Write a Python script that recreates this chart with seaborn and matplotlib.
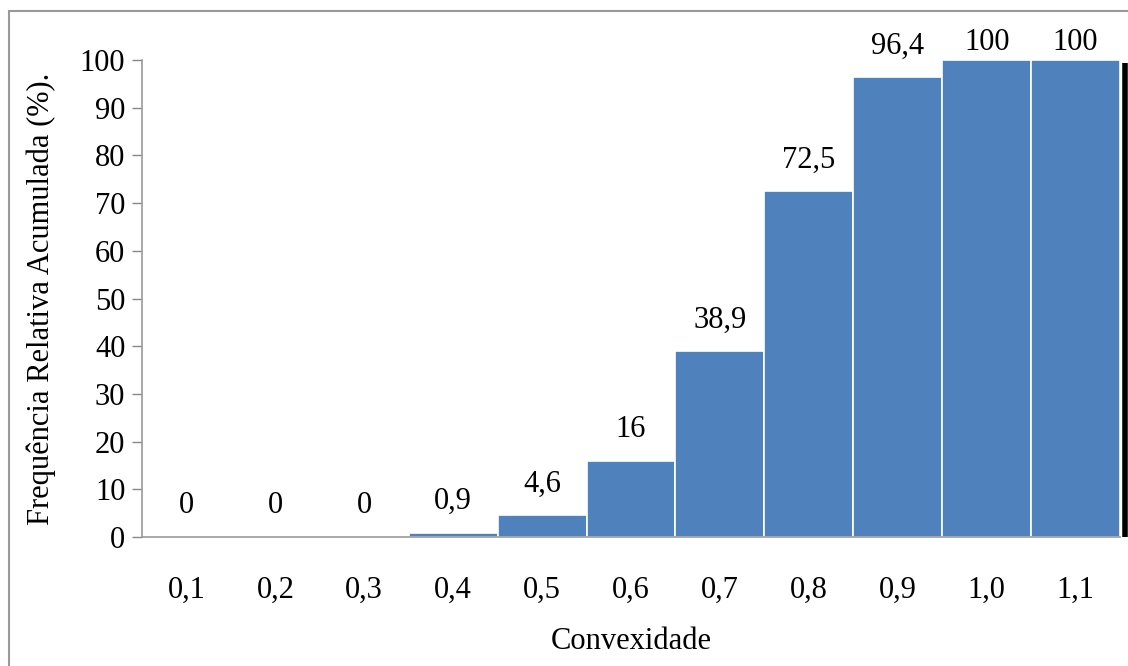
import matplotlib
matplotlib.use("Agg")
import matplotlib.pyplot as plt
import seaborn as sns
import pandas as pd
from matplotlib.patches import Rectangle
from matplotlib.lines import Line2D

categories = ["0,1", "0,2", "0,3", "0,4", "0,5", "0,6", "0,7", "0,8", "0,9", "1,0", "1,1"]
values = [0, 0, 0, 0.9, 4.6, 16, 38.9, 72.5, 96.4, 100, 100]
value_labels = ["0", "0", "0", "0,9", "4,6", "16", "38,9", "72,5", "96,4", "100", "100"]
y_ticks = [0, 10, 20, 30, 40, 50, 60, 70, 80, 90, 100]

sns.set_theme(style="white")
plt.rcParams["font.family"] = ["Liberation Serif", "DejaVu Serif"]

FS = 22

df = pd.DataFrame({"cat": categories, "val": values})

fig = plt.figure(figsize=(11.28, 6.66), dpi=100)
ax = fig.add_axes([142 / 1128, 1 - 537 / 666, (1120 - 142) / 1128, (537 - 60) / 666])

sns.barplot(data=df, x="cat", y="val", color="#4F81BD", saturation=1, width=1.0,
            edgecolor="white", linewidth=1.2, ax=ax)

ax.set_xlim(-0.5, len(categories) - 0.5)
ax.set_ylim(0, 100)
ax.set_yticks(y_ticks)
ax.set_yticklabels([str(t) for t in y_ticks], fontsize=FS, color="black")
ax.tick_params(axis="y", which="major", left=True, length=7, width=1, color="#888888", pad=5)
ax.tick_params(axis="x", bottom=False, labelsize=FS, labelcolor="black", pad=22)

for s in ["top", "right"]:
    ax.spines[s].set_visible(False)
for s in ["left", "bottom"]:
    ax.spines[s].set_color("#999999")
    ax.spines[s].set_linewidth(1.2)

ax.set_xlabel("Convexidade", fontsize=FS, labelpad=16, color="black")
ax.set_ylabel("Frequência Relativa Acumulada (%).", fontsize=FS, labelpad=17, color="black")

for i, (v, lab) in enumerate(zip(values, value_labels)):
    off = 17 if v < 99 else 7
    ax.annotate(lab, xy=(i, v), xytext=(0, off), textcoords="offset points",
                ha="center", va="baseline", fontsize=FS, color="black", annotation_clip=False)

# black vertical line at right edge of plot
fig.add_artist(Line2D([1124.5 / 1128, 1124.5 / 1128], [1 - 537 / 666, 1 - 63 / 666],
                      transform=fig.transFigure, color="black", linewidth=4,
                      solid_capstyle="butt"))

# chart area border
fig.add_artist(Rectangle((9 / 1128, -0.01), 1.2, 1 - 11 / 666 + 0.01,
                         transform=fig.transFigure, fill=False,
                         edgecolor="#999999", linewidth=1.5))

fig.savefig("out.png", dpi=100)
